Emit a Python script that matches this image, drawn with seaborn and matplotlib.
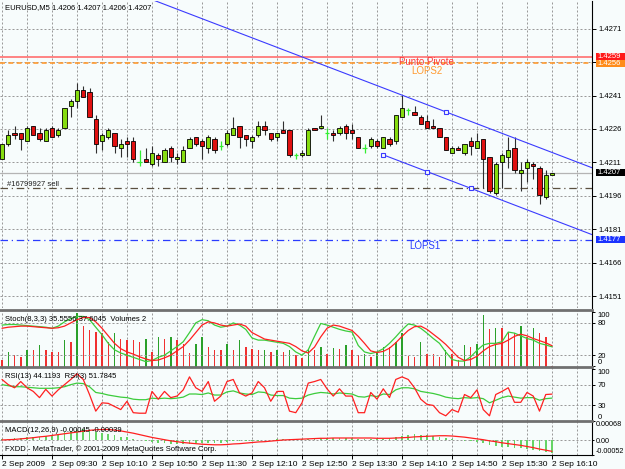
import numpy as np
import matplotlib
matplotlib.use("Agg")
import matplotlib.pyplot as plt
import seaborn as sns

# ---- data (2 Sep 2009) ----
open_ = [1.4213, 1.4220, 1.4225, 1.4225, 1.4221, 1.4228, 1.4225, 1.4221, 1.4227, 1.4224,
         1.4227, 1.4237, 1.4239, 1.4244, 1.4243, 1.4231, 1.4221, 1.4223, 1.4225, 1.4218,
         1.4221, 1.4221, 1.4212, 1.4213, 1.4211, 1.4215, 1.4212, 1.4218, 1.4213, 1.4212,
         1.4218, 1.4223, 1.4221, 1.4218, 1.4222, 1.4219, 1.4220, 1.4224, 1.4228, 1.4224,
         1.4221, 1.4224, 1.4228, 1.4225, 1.4223, 1.4226, 1.4226, 1.4215, 1.4215, 1.4215,
         1.4227, 1.4227, 1.4225, 1.4225, 1.4225, 1.4228, 1.4226, 1.4223, 1.4218, 1.4219,
         1.4221, 1.4218, 1.4222, 1.4221, 1.4232, 1.4235, 1.4234, 1.4232, 1.4230, 1.4228,
         1.4227, 1.4223, 1.4216, 1.4218, 1.4216, 1.4221, 1.4218, 1.4222, 1.4214, 1.4198,
         1.4212, 1.4214, 1.4218, 1.4207, 1.4209, 1.4211, 1.4209, 1.4196, 1.4206]
high_ = [1.4220, 1.4226, 1.4228, 1.4225, 1.4228, 1.4228, 1.4227, 1.4227, 1.4228, 1.4227,
         1.4236, 1.4240, 1.4247, 1.4246, 1.4245, 1.4233, 1.4225, 1.4227, 1.4225, 1.4222,
         1.4223, 1.4223, 1.4217, 1.4218, 1.4219, 1.4216, 1.4218, 1.4219, 1.4216, 1.4219,
         1.4223, 1.4223, 1.4222, 1.4224, 1.4223, 1.4221, 1.4226, 1.4232, 1.4228, 1.4224,
         1.4224, 1.4230, 1.4230, 1.4225, 1.4225, 1.4230, 1.4226, 1.4216, 1.4217, 1.4227,
         1.4227, 1.4233, 1.4227, 1.4226, 1.4228, 1.4229, 1.4229, 1.4223, 1.4220, 1.4223,
         1.4222, 1.4223, 1.4223, 1.4233, 1.4242, 1.4236, 1.4237, 1.4233, 1.4233, 1.4231,
         1.4227, 1.4223, 1.4219, 1.4219, 1.4220, 1.4223, 1.4225, 1.4222, 1.4214, 1.4212,
         1.4216, 1.4223, 1.4223, 1.4212, 1.4213, 1.4212, 1.4210, 1.4208, 1.4207]
low_ = [1.4213, 1.4219, 1.4222, 1.4217, 1.4221, 1.4224, 1.4221, 1.4221, 1.4223, 1.4223,
        1.4227, 1.4232, 1.4236, 1.4241, 1.4232, 1.4216, 1.4217, 1.4222, 1.4216, 1.4214,
        1.4214, 1.4212, 1.4210, 1.4212, 1.4210, 1.4210, 1.4212, 1.4212, 1.4211, 1.4212,
        1.4218, 1.4219, 1.4213, 1.4216, 1.4216, 1.4217, 1.4219, 1.4224, 1.4218, 1.4219,
        1.4218, 1.4223, 1.4224, 1.4221, 1.4221, 1.4225, 1.4214, 1.4213, 1.4214, 1.4215,
        1.4226, 1.4227, 1.4222, 1.4221, 1.4224, 1.4222, 1.4222, 1.4218, 1.4216, 1.4218,
        1.4218, 1.4218, 1.4219, 1.4220, 1.4232, 1.4233, 1.4233, 1.4229, 1.4227, 1.4227,
        1.4223, 1.4217, 1.4216, 1.4217, 1.4215, 1.4215, 1.4218, 1.4200, 1.4198, 1.4197,
        1.4200, 1.4209, 1.4207, 1.4199, 1.4203, 1.4204, 1.4193, 1.4195, 1.4206]
close_ = [1.4220, 1.4224, 1.4224, 1.4222, 1.4227, 1.4224, 1.4222, 1.4226, 1.4223, 1.4226,
          1.4236, 1.4239, 1.4244, 1.4241, 1.4232, 1.4220, 1.4224, 1.4226, 1.4219, 1.4220,
          1.4220, 1.4213, 1.4212, 1.4212, 1.4216, 1.4213, 1.4217, 1.4214, 1.4214, 1.4217,
          1.4222, 1.4220, 1.4219, 1.4223, 1.4217, 1.4219, 1.4225, 1.4227, 1.4223, 1.4222,
          1.4223, 1.4228, 1.4226, 1.4222, 1.4225, 1.4225, 1.4215, 1.4215, 1.4216, 1.4226,
          1.4226, 1.4228, 1.4225, 1.4224, 1.4227, 1.4225, 1.4225, 1.4218, 1.4218, 1.4222,
          1.4219, 1.4223, 1.4220, 1.4233, 1.4236, 1.4235, 1.4233, 1.4229, 1.4227, 1.4227,
          1.4223, 1.4217, 1.4218, 1.4217, 1.4220, 1.4219, 1.4221, 1.4213, 1.4199, 1.4211,
          1.4215, 1.4217, 1.4208, 1.4208, 1.4212, 1.4210, 1.4197, 1.4206, 1.4207]

volumes = [20, 45, 35, 30, 52, 52, 65, 50, 45, 45,
           82, 75, 160, 122, 110, 105, 100, 75, 100, 85,
           82, 82, 75, 85, 45, 88, 85, 88, 80, 70,
           42, 70, 90, 60, 50, 50, 70, 52, 80, 60,
           55, 50, 52, 45, 50, 45, 52, 35, 28, 55,
           50, 60, 40, 57, 55, 65, 50, 35, 40, 30,
           45, 60, 60, 75, 100, 32, 30, 75, 40, 38,
           30, 50, 40, 22, 65, 60, 70, 155, 112, 115,
           115, 105, 100, 122, 90, 117, 100, 90, 2]

stoch_main = [76, 77, 77, 76, 75, 74, 73, 72, 70, 74,
              82, 88, 92, 92, 86, 72, 58, 42, 30, 24,
              20, 16, 12, 8, 10, 16, 20, 28, 36, 45,
              62, 80, 86, 84, 76, 72, 74, 80, 76, 68,
              52, 48, 48, 46, 44, 42, 36, 26, 20, 30,
              55, 79, 76, 72, 68, 65, 63, 38, 26, 23,
              26, 32, 42, 54, 67, 78, 76, 70, 61, 51,
              42, 26, 12, 9, 9, 17, 29, 39, 42, 42,
              45, 63, 61, 56, 51, 48, 42, 39, 35.5556]
stoch_signal = [70, 72, 73, 74, 74, 73, 72, 71, 70, 71,
                74, 80, 86, 90, 90, 82, 70, 56, 42, 32,
                26, 22, 17, 13, 10, 11, 15, 20, 28, 36,
                48, 62, 76, 82, 80, 76, 74, 76, 78, 74,
                62, 56, 50, 48, 46, 44, 42, 36, 28, 24,
                35, 54, 70, 76, 74, 70, 66, 55, 42, 28,
                25, 27, 33, 43, 55, 66, 73, 74, 68, 59,
                50, 40, 28, 16, 10, 12, 18, 28, 36, 40,
                42, 48, 55, 59, 56, 51, 47, 43, 37.6045]

rsi13 = [70, 68, 66, 66, 65, 64, 63, 63, 63, 64,
         66, 70, 73, 72, 66, 55, 53, 50, 48, 46,
         45, 42, 41, 41, 44, 43, 44, 43, 44, 46,
         52, 52, 51, 54, 50, 50, 56, 58, 54, 52,
         51, 56, 55, 50, 49, 49, 44, 43, 44, 50,
         53, 55, 54, 52, 54, 53, 52, 47, 46, 49,
         47, 52, 51, 60, 64, 64, 62, 57, 55, 53,
         50, 46, 44, 43, 45, 44, 45, 43, 35, 40,
         45, 48, 46, 44, 45, 45, 40, 43, 44.1193]
rsi3 = [80, 70, 64, 76, 64, 57, 45, 61, 48, 60,
        70, 80, 91, 80, 51, 19, 35, 34, 28, 22,
        38, 16, 15, 15, 57, 42, 57, 45, 48, 60,
        85, 64, 57, 76, 38, 48, 76, 80, 54, 48,
        54, 76, 64, 38, 57, 57, 19, 16, 35, 73,
        76, 80, 62, 48, 62, 48, 48, 16, 16, 55,
        42, 62, 45, 80, 85, 80, 64, 42, 32, 30,
        16, 10, 22, 17, 51, 45, 60, 22, 10, 51,
        57, 64, 36, 36, 55, 48, 19, 51, 51.7845]

macd_main = [0.00005, 0.00006, 0.00008, 0.00008, 0.0001, 0.00012, 0.00012, 0.00014, 0.00016, 0.00018,
             0.00028, 0.00033, 0.00038, 0.0004, 0.00038, 0.0003, 0.00026, 0.00022, 0.00017, 0.00013,
             0.0001, 0.00005, 0.00001, -0.00003, -0.00006, -0.00008, -0.0001, -0.00012, -0.00013, -0.00014,
             -0.00012, -0.00011, -0.0001, -0.00008, -0.00008, -0.00008, -0.00006, -0.00004, -0.00004, -0.00004,
             -0.00004, -0.00002, 0.0, 0.00002, 0.00004, 0.00005, 0.00003, 0.00002, 0.00003, 0.00005,
             0.00007, 0.00008, 0.00009, 0.00009, 0.00009, 0.00009, 0.00008, 0.00006, 0.00005, 0.00005,
             0.00005, 0.00006, 0.00007, 0.00011, 0.00016, 0.0002, 0.00021, 0.0002, 0.00018, 0.00016,
             0.00013, 0.00009, 0.00004, 0.00001, -0.00002, -0.00004, -0.00005, -0.00008, -0.00017, -0.00021,
             -0.00023, -0.00024, -0.00027, -0.00029, -0.00031, -0.00033, -0.00037, -0.00041, -0.00045]
macd_signal = [0.00001, 0.00002, 0.00003, 0.00005, 0.00007, 0.00009, 0.00012, 0.00014, 0.00017, 0.0002,
               0.00023, 0.00026, 0.00029, 0.00032, 0.00035, 0.00037, 0.00038, 0.00038, 0.00036, 0.00033,
               0.00029, 0.00025, 0.0002, 0.00015, 0.0001, 0.00006, 0.00002, -0.00002, -0.00005, -0.00008,
               -0.0001, -0.00012, -0.00014, -0.00015, -0.00016, -0.00016, -0.00015, -0.00013, -0.00012, -0.0001,
               -0.00008, -0.00006, -0.00005, -0.00003, -0.00001, 0.00001, 0.00002, 0.00003, 0.00004, 0.00005,
               0.00006, 0.00007, 0.00007, 0.00008, 0.00008, 0.00008, 0.00008, 0.00008, 0.00008, 0.00008,
               0.00007, 0.00007, 0.00007, 0.00008, 0.00009, 0.0001, 0.00012, 0.00013, 0.00014, 0.00015,
               0.00016, 0.00016, 0.00015, 0.00013, 0.00011, 0.00008, 0.00005, 0.00002, -0.00002, -0.00005,
               -0.00009, -0.00012, -0.00015, -0.00018, -0.00022, -0.00026, -0.00031, -0.00035, -0.00039]

time_labels = ["2 Sep 2009", "2 Sep 09:30", "2 Sep 10:10", "2 Sep 10:50", "2 Sep 11:30",
               "2 Sep 12:10", "2 Sep 12:50", "2 Sep 13:30", "2 Sep 14:10", "2 Sep 14:50",
               "2 Sep 15:30", "2 Sep 16:10"]
price_labels = ["1.4271", "1.4256", "1.4241", "1.4226", "1.4211", "1.4196", "1.4181", "1.4166", "1.4151"]

pivot = 1.4259
lops2 = 1.4256
lops1 = 1.4177
sell_price = 1.4200
bid = close_[-1]

# channel: two anchor points of the lower line, width up to the parallel line
chan_bars = [61, 75]
chan_prices = [1.4215, 1.4200]
chan_width = 0.0030

# ---- style ----
BG = "#f7fcfc"
GRID = "#9a9a9a"
BULL = "#86dc10"
BEAR = "#e01010"
DOJI = "#33ee33"
LINE_G = "#3ccc3c"
LINE_R = "#ff2020"
BLUE = "#3a3aff"
FS = 5.5

sns.set_style("white")
plt.rcParams["font.family"] = ["Liberation Sans", "DejaVu Sans"]
plt.rcParams["font.size"] = FS

W, H = 625, 469
fig = plt.figure(figsize=(W / 100, H / 100), dpi=100)
fig.patch.set_facecolor(BG)

bars = np.arange(len(close_))
XLIM = (-2 / 6.25, 590 / 6.25)


def px_axes(x0, y0, x1, y1):
    return fig.add_axes([x0 / W, 1 - y1 / H, (x1 - x0) / W, (y1 - y0) / H])


def base(ax, grid_y):
    ax.set_facecolor(BG)
    ax.set_xlim(XLIM)
    for v in range(0, 95, 4):
        ax.axvline(v, color=GRID, lw=0.72, ls=(0, (2, 2)), zorder=0)
    for p in grid_y:
        ax.axhline(p, color=GRID, lw=0.72, ls=(0, (2, 2)), zorder=0)
    ax.set_xticks([])
    for s in ax.spines.values():
        s.set_visible(False)


# ---------------- main price window ----------------
ax = px_axes(0, 1, 592, 308)
price_ticks = [float(p) + 0.00006 for p in price_labels]
base(ax, price_ticks)
ax.set_ylim(1.41463, 1.42840)
ax.yaxis.tick_right()
ax.set_yticks(price_ticks, price_labels)
ax.tick_params(axis="y", length=3, width=0.7, pad=2, labelsize=FS, colors="black")
ax.spines["right"].set_visible(True)
ax.spines["right"].set_color("black")
ax.spines["right"].set_linewidth(0.8)

o = np.array(open_); h = np.array(high_); l = np.array(low_); c = np.array(close_)
doji = o == c
up = c > o
ax.vlines(bars[~doji], l[~doji], h[~doji], color="#303030", lw=0.8, zorder=3)
ax.bar(bars[~doji], np.abs(c - o)[~doji], bottom=np.minimum(o, c)[~doji], width=0.7,
       color=np.where(up, BULL, BEAR)[~doji], edgecolor="black", linewidth=0.6, zorder=4)
ax.vlines(bars[doji], l[doji], h[doji], color=DOJI, lw=0.9, zorder=4)
ax.hlines(c[doji], bars[doji] - 0.35, bars[doji] + 0.35, color=DOJI, lw=0.9, zorder=4)

# horizontal objects
ax.axhline(pivot, color="#ff7a7a", lw=1.3, zorder=2)
ax.axhline(lops2, color="#ff9a30", lw=1.2, ls=(0, (3, 2)), zorder=2)
ax.axhline(bid, color="#b4b4b4", lw=0.9, zorder=2)
ax.axhline(sell_price, color="#5a5040", lw=0.9, ls=(0, (6, 3, 1, 3)), zorder=2)
ax.axhline(lops1, color="#2a3cff", lw=0.9, ls=(0, (6, 3, 1, 3)), zorder=2)

ax.text(63.5, pivot - 0.00002, "Punto Pivote", color="#ff3a3a", fontsize=7,
        va="top", ha="left", zorder=6)
ax.text(65.4, lops2 - 0.00012, "LOPS2", color="#ff9a30", fontsize=7,
        va="top", ha="left", zorder=6)
ax.text(65.2, lops1 - 0.00008, "LOPS1", color="#2a3cff", fontsize=7,
        va="top", ha="left", zorder=6)
ax.text(0.8, sell_price + 0.00003, "#16799927 sell", color="#202020", fontsize=FS,
        va="bottom", ha="left", zorder=6)

# channel
slope = (chan_prices[1] - chan_prices[0]) / (chan_bars[1] - chan_bars[0])
lx = np.array([chan_bars[0], 96])
ax.plot(lx, chan_prices[0] + slope * (lx - chan_bars[0]), color=BLUE, lw=0.8, zorder=5)
ux = np.array([15, 96])
ax.plot(ux, chan_prices[0] + chan_width + slope * (ux - chan_bars[0]), color=BLUE, lw=0.8, zorder=5)
mk = np.array([61, 68, 75])
ax.plot(mk, chan_prices[0] + slope * (mk - chan_bars[0]), ls="none", marker="s", ms=3.2,
        mfc=BG, mec=BLUE, mew=0.8, zorder=6)
ax.plot([71], [chan_prices[0] + chan_width + slope * (71 - chan_bars[0])], ls="none", marker="s",
        ms=3.2, mfc=BG, mec=BLUE, mew=0.8, zorder=6)

# price boxes on the scale
ytr = ax.get_yaxis_transform()
for price, col in [(pivot, "#ff1a1a"), (lops2, "#ff8c1a"), (bid, "black"), (lops1, "#1a33ff")]:
    ax.add_patch(plt.Rectangle((1.0068, price - 0.00017), 0.06, 0.00034, transform=ytr,
                               facecolor=col, edgecolor="none", clip_on=False, zorder=7))
    ax.text(1.0095, price, f"{price:.4f}", transform=ytr, color="white", fontsize=FS,
            va="center", ha="left", clip_on=False, zorder=8)

ax.set_ylabel("")

# ---------------- stochastic + volumes ----------------
ax_v = px_axes(0, 310, 592, 367)
base(ax_v, [])
ax_v.set_ylim(0, 170)
ax_v.set_yticks([])
vol = np.array(volumes)
vol_up = np.r_[False, vol[1:] > vol[:-1]]
ax_v.bar(bars, vol, width=0.24, color=np.where(vol_up, "#2aa02a", "#f03030"), linewidth=0, zorder=2)

ax_s = px_axes(0, 310, 592, 367)
ax_s.set_facecolor("none")
ax_s.set_xlim(XLIM)
ax_s.set_ylim(-2, 104)
for p in (20, 80):
    ax_s.axhline(p, color=GRID, lw=0.72, ls=(0, (2, 2)), zorder=0)
sns.lineplot(x=bars, y=stoch_main, ax=ax_s, color=LINE_G, lw=0.9)
sns.lineplot(x=bars, y=stoch_signal, ax=ax_s, color=LINE_R, lw=0.9)

# ---------------- RSI ----------------
ax_r = px_axes(0, 367, 592, 421)
base(ax_r, [30, 70])
ax_r.set_ylim(0, 104)
sns.lineplot(x=bars, y=rsi13, ax=ax_r, color=LINE_G, lw=0.9)
sns.lineplot(x=bars, y=rsi3, ax=ax_r, color=LINE_R, lw=0.9)

# ---------------- MACD ----------------
ax_m = px_axes(0, 421, 592, 455)
base(ax_m, [0])
ax_m.set_ylim(-0.00052, 0.00068)
ax_m.bar(bars, macd_main, width=0.26, color="#66d466", linewidth=0, zorder=2)
sns.lineplot(x=bars, y=macd_signal, ax=ax_m, color=LINE_R, lw=0.9)

# right-hand scales of the sub windows
for a, ticks, labs in [(ax_s, [100, 80, 20, 0], ["100", "80", "20", "0"]),
                       (ax_r, [100, 70, 30, 0], ["100", "70", "30", "0"]),
                       (ax_m, [0.00068, 0.0, -0.00052], ["0.00068", "0.00", "-0.00052"])]:
    a.yaxis.tick_right()
    a.set_yticks(ticks, labs)
    a.tick_params(axis="y", length=2, width=0.7, pad=2, labelsize=FS, colors="black")
    tl = a.get_yticklabels()
    tl[0].set_va("top")
    tl[-1].set_va("bottom")
    a.set_xlabel(""); a.set_ylabel("")
    for s in a.spines.values():
        s.set_visible(False)
    a.spines["right"].set_visible(True)
    a.spines["right"].set_color("black")
    a.spines["top"].set_visible(True)
    a.spines["top"].set_color("#707070")
    a.spines["top"].set_linewidth(2.0)

# the MACD scale is the widest one, keep it inside the picture
ax_m.tick_params(axis="y", length=1.5, pad=1, labelsize=5.2)

ax_m.spines["bottom"].set_visible(True)
ax_m.spines["bottom"].set_color("black")
ax_m.spines["bottom"].set_linewidth(0.8)
ax_m.set_xticks(bars[::8], time_labels)
ax_m.tick_params(axis="x", length=3, width=0.7, pad=1, labelsize=6, colors="black", bottom=True)
for t in ax_m.get_xticklabels():
    t.set_ha("left")
ax_s.set_xticks([])
ax_r.set_xticks([])

# window captions
def ftext(x, y, s):
    fig.text(x / W, 1 - y / H, s, va="center", ha="left", fontsize=FS, color="black")


ftext(5, 8, "EURUSD,M5 1.4206 1.4207 1.4206 1.4207")
ftext(5, 319, "Stoch(8,3,3) 35.5556 37.6045  Volumes 2")
ftext(5, 376, "RSI(13) 44.1193  RSI(3) 51.7845")
ftext(5, 430, "MACD(12,26,9) -0.00045 -0.00039")
ftext(5, 449, "FXDD - MetaTrader, \u00a9 2001-2009 MetaQuotes Software Corp.")

fig.savefig("out.png", dpi=100, facecolor=BG)
